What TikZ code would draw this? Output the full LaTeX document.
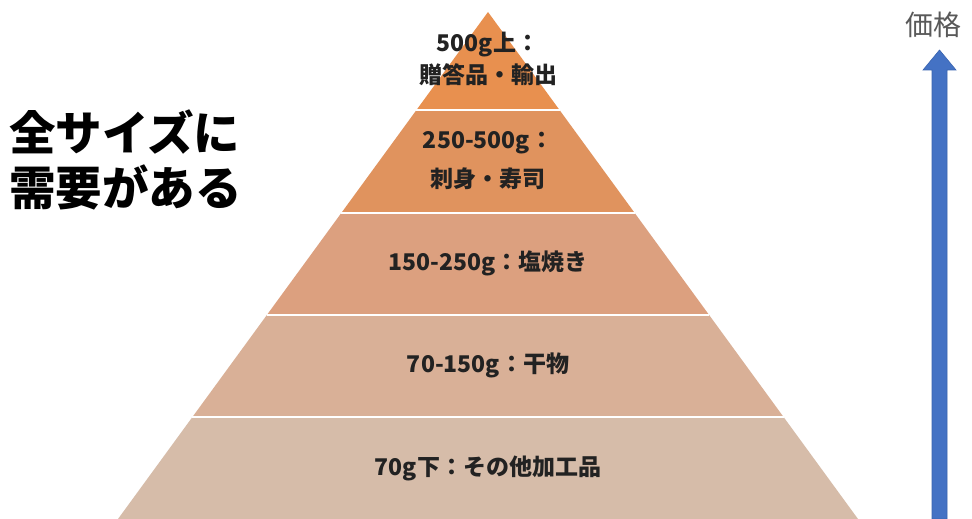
\documentclass[tikz,border=0pt]{standalone}
\usepackage{fontspec}
\newfontfamily\jp{Noto Sans CJK JP}
\usetikzlibrary{calc}
\definecolor{lay1}{HTML}{E8904F}
\definecolor{lay2}{HTML}{E0935E}
\definecolor{lay3}{HTML}{DCA07F}
\definecolor{lay4}{HTML}{D9B097}
\definecolor{lay5}{HTML}{D6BCA9}
\definecolor{arrowblue}{HTML}{4472C4}
\definecolor{arrowedge}{HTML}{3A64B0}
\definecolor{labeltext}{HTML}{222222}
\definecolor{pricegray}{HTML}{595959}
\tikzset{
  layerlabel/.style={font=\jp\bfseries\fontsize{23}{28}\selectfont, text=labeltext, align=center, inner sep=0pt},
  bigtext/.style={font=\jp\bfseries\fontsize{46.5}{55}\selectfont, anchor=west, inner sep=0pt},
  sep/.style={draw=white, line width=2pt},
}
\begin{document}
\begin{tikzpicture}[x=1pt,y=1pt]
\useasboundingbox (0,0) rectangle (972,519);
\fill[white] (0,0) rectangle (972,519);
\coordinate (A) at (488,507);
\coordinate (BL) at (118,0);
\coordinate (BR) at (858,0);
\foreach \n/\t in {1/0.2012,2/0.4024,3/0.6036,4/0.8067}{
  \coordinate (L\n) at ($(BL)!\t!(A)$);
  \coordinate (R\n) at ($(BR)!\t!(A)$);
}
\fill[lay5] (BL) -- (BR) -- (R1) -- (L1) -- cycle;
\fill[lay4] (L1) -- (R1) -- (R2) -- (L2) -- cycle;
\fill[lay3] (L2) -- (R2) -- (R3) -- (L3) -- cycle;
\fill[lay2] (L3) -- (R3) -- (R4) -- (L4) -- cycle;
\fill[lay1] (L4) -- (R4) -- (A) -- cycle;
\draw[sep] (L1) -- (R1);
\draw[sep] (L2) -- (R2);
\draw[sep] (L3) -- (R3);
\draw[sep] (L4) -- (R4);

\node[layerlabel] (t1a) at (488,474) {500g上：};
\node[layerlabel] (t1b) at (488,444) {贈答品・輸出};
\node[layerlabel] (t2a) at (488,376) {250-500g：};
\node[layerlabel] (t2b) at (488,340) {刺身・寿司};
\node[layerlabel] (t3) at (488,256) {150-250g：塩焼き};
\node[layerlabel] (t4) at (488,154) {70-150g：干物};
\node[layerlabel] (t5) at (488,51) {70g下：その他加工品};

\node[bigtext] (n1) at (9,387) {全サイズに};
\node[bigtext] (n2) at (9,332) {需要がある};

\node[font=\jp\fontsize{28}{32}\selectfont, text=pricegray, inner sep=0pt] (price) at (933,494) {価格};
\fill[arrowblue, draw=arrowedge, line width=0.6pt]
  (932,0) -- (932,449) -- (923,449) -- (939.5,469) -- (956,449) -- (947,449) -- (947,0) -- cycle;
\end{tikzpicture}
\end{document}
